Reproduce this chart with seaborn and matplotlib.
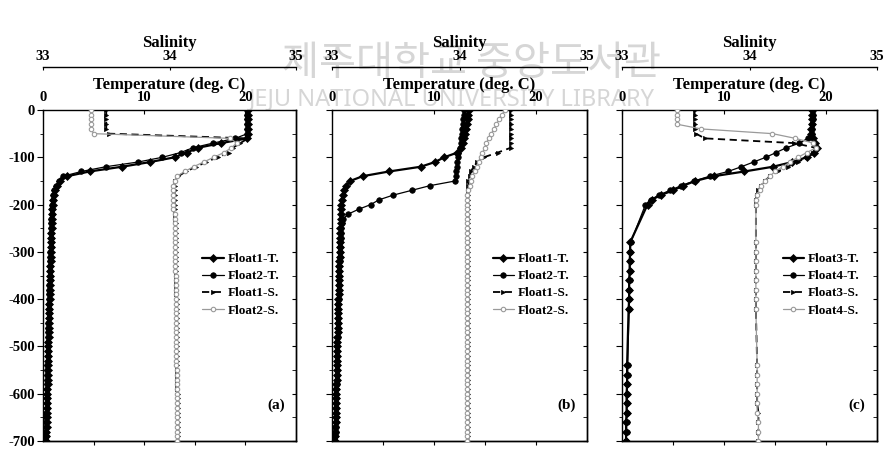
import matplotlib
matplotlib.use("Agg")
import matplotlib.pyplot as plt
import seaborn as sns

# ---------------- data ----------------
# depth levels (m) used by panels (a) and (b)
depth = [0, -10, -20, -30, -40, -50, -60, -70, -80, -90,
         -100, -110, -120, -130, -140, -150, -160, -170, -180, -190,
         -200, -210, -220, -230, -240, -250, -260, -270, -280, -290,
         -300, -310, -320, -330, -340, -350, -360, -370, -380, -390,
         -400, -410, -420, -430, -440, -450, -460, -470, -480, -490,
         -500, -510, -520, -530, -540, -550, -560, -570, -580, -590,
         -600, -610, -620, -630, -640, -650, -660, -670, -680, -690,
         -700]

# panel (a)
a_float1_t = [20.3, 20.3, 20.3, 20.3, 20.3, 20.3, 20.2, 17.6, 15.3, 14.2,
              13.0, 10.6, 7.8, 4.6, 2.4, 1.7, 1.4, 1.2, 1.1, 1.0,
              0.95, 0.9, 0.9, 0.85, 0.85, 0.85, 0.8, 0.8, 0.8, 0.8,
              0.75, 0.75, 0.75, 0.7, 0.7, 0.7, 0.7, 0.65, 0.65, 0.65,
              0.65, 0.6, 0.6, 0.6, 0.6, 0.55, 0.55, 0.55, 0.55, 0.5,
              0.5, 0.5, 0.5, 0.5, 0.45, 0.45, 0.45, 0.45, 0.45, 0.4,
              0.4, 0.4, 0.4, 0.4, 0.35, 0.35, 0.35, 0.35, 0.3, 0.3,
              0.3]
a_float2_t = [20.2, 20.2, 20.2, 20.2, 20.2, 20.2, 19.0, 16.8, 14.8, 13.6,
              11.8, 9.4, 6.2, 3.8, 2.0, 1.6, 1.3, 1.1, 1.0, 0.95,
              0.9, 0.85, 0.85, 0.8, 0.8, 0.8, 0.75, 0.75, 0.75, 0.75,
              0.7, 0.7, 0.7, 0.65, 0.65, 0.65, 0.65, 0.6, 0.6, 0.6,
              0.6, 0.55, 0.55, 0.55, 0.55, 0.5, 0.5, 0.5, 0.5, 0.45,
              0.45, 0.45, 0.45, 0.45, 0.4, 0.4, 0.4, 0.4, 0.4, 0.35,
              0.35, 0.35, 0.35, 0.35, 0.3, 0.3, 0.3, 0.3, 0.25, 0.25,
              0.25]
a_float1_s = [33.50, 33.50, 33.50, 33.50, 33.50, 33.52, 34.62, 34.56, 34.50, 34.47,
              34.38, 34.29, 34.21, 34.13, 34.07, 34.04, 34.04, 34.04, 34.04, 34.04,
              34.04, 34.04, 34.04, 34.04, 34.05, 34.05, 34.05, 34.05, 34.05, 34.05,
              34.05, 34.05, 34.05, 34.05, 34.05, 34.05, 34.05, 34.05, 34.05, 34.05,
              34.06, 34.06, 34.06, 34.06, 34.06, 34.06, 34.06, 34.06, 34.06, 34.06,
              34.06, 34.06, 34.06, 34.06, 34.06, 34.06, 34.06, 34.06, 34.06, 34.06,
              34.07, 34.07, 34.07, 34.07, 34.07, 34.07, 34.07, 34.07, 34.07, 34.07,
              34.07]
a_float2_s = [33.38, 33.38, 33.38, 33.38, 33.38, 33.40, 34.48, 34.53, 34.49, 34.43,
              34.35, 34.27, 34.19, 34.12, 34.06, 34.04, 34.03, 34.03, 34.03, 34.03,
              34.03, 34.03, 34.04, 34.04, 34.04, 34.04, 34.04, 34.04, 34.04, 34.04,
              34.04, 34.04, 34.04, 34.04, 34.04, 34.05, 34.05, 34.05, 34.05, 34.05,
              34.05, 34.05, 34.05, 34.05, 34.05, 34.05, 34.05, 34.05, 34.05, 34.05,
              34.05, 34.05, 34.05, 34.05, 34.05, 34.06, 34.06, 34.06, 34.06, 34.06,
              34.06, 34.06, 34.06, 34.06, 34.06, 34.06, 34.06, 34.06, 34.06, 34.06,
              34.06]

# panel (b)
b_float1_t = [13.4, 13.3, 13.3, 13.2, 13.1, 13.0, 12.9, 12.8, 12.6, 12.3,
              11.0, 10.1, 8.7, 5.6, 3.0, 1.8, 1.4, 1.2, 1.05, 0.95,
              0.9, 0.9, 0.85, 0.85, 0.85, 0.8, 0.8, 0.8, 0.8, 0.75,
              0.75, 0.75, 0.7, 0.7, 0.7, 0.7, 0.65, 0.65, 0.65, 0.65,
              0.6, 0.6, 0.6, 0.6, 0.55, 0.55, 0.55, 0.55, 0.5, 0.5,
              0.5, 0.5, 0.5, 0.45, 0.45, 0.45, 0.45, 0.45, 0.4, 0.4,
              0.4, 0.4, 0.4, 0.35, 0.35, 0.35, 0.35, 0.3, 0.3, 0.3,
              0.3]
b_float2_t = [12.9, 12.9, 12.8, 12.8, 12.7, 12.7, 12.6, 12.6, 12.5, 12.4,
              12.4, 12.3, 12.3, 12.2, 12.2, 12.1, 9.6, 7.8, 6.0, 4.6,
              3.8, 2.6, 1.6, 1.1, 0.95, 0.9, 0.85, 0.85, 0.8, 0.8,
              0.75, 0.75, 0.75, 0.7, 0.7, 0.7, 0.7, 0.65, 0.65, 0.65,
              0.65, 0.6, 0.6, 0.6, 0.6, 0.55, 0.55, 0.55, 0.55, 0.5,
              0.5, 0.5, 0.5, 0.5, 0.45, 0.45, 0.45, 0.45, 0.45, 0.4,
              0.4, 0.4, 0.4, 0.4, 0.35, 0.35, 0.35, 0.35, 0.35, 0.3,
              0.3]
b_float1_s = [34.40, 34.40, 34.40, 34.40, 34.40, 34.40, 34.40, 34.40, 34.40, 34.30,
              34.19, 34.14, 34.11, 34.09, 34.08, 34.07, 34.07, 34.07, 34.07, 34.07,
              34.07, 34.07, 34.07, 34.07, 34.07, 34.07, 34.07, 34.07, 34.07, 34.07,
              34.07, 34.07, 34.07, 34.07, 34.07, 34.07, 34.07, 34.07, 34.07, 34.07,
              34.07, 34.07, 34.07, 34.07, 34.07, 34.07, 34.07, 34.07, 34.07, 34.07,
              34.07, 34.07, 34.07, 34.07, 34.07, 34.07, 34.07, 34.07, 34.07, 34.07,
              34.07, 34.07, 34.07, 34.07, 34.07, 34.07, 34.07, 34.07, 34.07, 34.07,
              34.07]
b_float2_s = [34.36, 34.33, 34.31, 34.29, 34.27, 34.25, 34.23, 34.21, 34.20, 34.18,
              34.17, 34.15, 34.14, 34.12, 34.10, 34.09, 34.08, 34.07, 34.06, 34.06,
              34.06, 34.06, 34.06, 34.06, 34.06, 34.06, 34.06, 34.06, 34.06, 34.06,
              34.06, 34.06, 34.06, 34.06, 34.06, 34.06, 34.06, 34.06, 34.06, 34.06,
              34.06, 34.06, 34.06, 34.06, 34.06, 34.06, 34.06, 34.06, 34.06, 34.06,
              34.06, 34.06, 34.06, 34.06, 34.06, 34.06, 34.06, 34.06, 34.06, 34.06,
              34.06, 34.06, 34.06, 34.06, 34.06, 34.06, 34.06, 34.06, 34.06, 34.06,
              34.06]

# panel (c): sparser sampling at depth
depth_c = [0, -10, -20, -30, -40, -50, -60, -70, -80, -90,
           -100, -110, -120, -130, -140, -150, -160, -170, -180, -190,
           -200, -280, -300, -320, -340, -360, -380, -400, -420, -540,
           -560, -580, -600, -620, -640, -660, -680, -700]
c_float3_t = [18.6, 18.6, 18.6, 18.6, 18.5, 18.5, 18.7, 18.9, 19.1, 18.8,
              18.1, 16.7, 14.8, 12.0, 9.0, 7.2, 6.0, 5.0, 3.8, 2.9,
              2.5, 0.8, 0.8, 0.75, 0.75, 0.7, 0.7, 0.7, 0.65, 0.5,
              0.5, 0.5, 0.45, 0.45, 0.45, 0.4, 0.4, 0.4]
c_float4_t = [18.7, 18.7, 18.7, 18.6, 18.6, 18.6, 18.2, 17.4, 16.1, 15.1,
              14.1, 12.9, 11.7, 10.4, 8.6, 7.1, 5.8, 4.7, 3.6, 2.8,
              2.3, 0.85, 0.8, 0.8, 0.75, 0.75, 0.7, 0.7, 0.7, 0.55,
              0.55, 0.5, 0.5, 0.5, 0.45, 0.45, 0.45, 0.4]
c_float3_s = [33.57, 33.57, 33.57, 33.57, 33.57, 33.58, 33.65, 34.35, 34.52, 34.50,
              34.45, 34.38, 34.30, 34.22, 34.16, 34.12, 34.09, 34.07, 34.06, 34.05,
              34.05, 34.05, 34.05, 34.05, 34.05, 34.05, 34.05, 34.05, 34.05, 34.06,
              34.06, 34.06, 34.06, 34.06, 34.07, 34.07, 34.07, 34.07]
c_float4_s = [33.43, 33.43, 33.43, 33.43, 33.62, 34.18, 34.36, 34.50, 34.52, 34.45,
              34.38, 34.32, 34.26, 34.20, 34.16, 34.12, 34.09, 34.08, 34.06, 34.05,
              34.05, 34.05, 34.05, 34.05, 34.05, 34.05, 34.05, 34.05, 34.05, 34.06,
              34.06, 34.06, 34.06, 34.06, 34.06, 34.07, 34.07, 34.07]

legend_a = ["Float1-T.", "Float2-T.", "Float1-S.", "Float2-S."]
legend_c = ["Float3-T.", "Float4-T.", "Float3-S.", "Float4-S."]
panel_tags = ["(a)", "(b)", "(c)"]

temp_ticks = [0, 10, 20]
temp_ticklabels = ["0", "10", "20"]
sal_ticks = [33, 34, 35]
sal_ticklabels = ["33", "34", "35"]
depth_ticks = [0, -100, -200, -300, -400, -500, -600, -700]
depth_ticklabels = ["0", "-100", "-200", "-300", "-400", "-500", "-600", "-700"]
depth_minor = [-50, -150, -250, -350, -450, -550, -650]

# ---------------- style ----------------
sns.set_style("ticks", {"axes.edgecolor": "black", "text.color": "black",
                        "xtick.color": "black", "ytick.color": "black",
                        "axes.labelcolor": "black"})
plt.rcParams["font.family"] = ["Liberation Serif", "DejaVu Serif"]
plt.rcParams["font.weight"] = "bold"
plt.rcParams["axes.labelweight"] = "bold"
plt.rcParams["axes.linewidth"] = 1.0

t_styles = [
    dict(color="black", linewidth=1.6, marker="D", markersize=3.6,
         markeredgecolor="black", markerfacecolor="black", markeredgewidth=0.5),
    dict(color="black", linewidth=0.9, marker="o", markersize=4.0,
         markeredgecolor="black", markerfacecolor="black", markeredgewidth=0.5),
]
s_styles = [
    dict(color="black", linewidth=1.3, linestyle=(0, (4, 2.5)), marker=">",
         markersize=3.0, markeredgecolor="black", markerfacecolor="black",
         markeredgewidth=0.5),
    dict(color="#9a9a9a", linewidth=0.9, marker="o", markersize=3.2,
         markeredgecolor="#9a9a9a", markerfacecolor="white", markeredgewidth=0.8),
]

W, H = 886, 450
fig = plt.figure(figsize=(W / 100, H / 100), dpi=100)

panels = [
    ((43, 296), depth, [a_float1_t, a_float2_t], [a_float1_s, a_float2_s], legend_a, True),
    ((332, 587), depth, [b_float1_t, b_float2_t], [b_float1_s, b_float2_s], legend_a, False),
    ((622, 877), depth_c, [c_float3_t, c_float4_t], [c_float3_s, c_float4_s], legend_c, False),
]
top_px, bot_px = 110, 441

for i, ((lpx, rpx), dep, temps, sals, names, show_y) in enumerate(panels):
    ax = fig.add_axes([lpx / W, (H - bot_px) / H, (rpx - lpx) / W, (bot_px - top_px) / H])
    axs = ax.twiny()

    for vals, st, nm in zip(temps, t_styles, names[:2]):
        sns.lineplot(x=vals, y=dep, ax=ax, sort=False, estimator=None,
                     label=nm, **st)
    for vals, st, nm in zip(sals, s_styles, names[2:]):
        sns.lineplot(x=vals, y=dep, ax=axs, sort=False, estimator=None,
                     label=nm, **st)

    for a in (ax, axs):
        if a.get_legend() is not None:
            a.get_legend().remove()

    # temperature axis (top, inner)
    ax.set_xlim(0, 25)
    ax.set_ylim(-700, 0)
    ax.xaxis.tick_top()
    ax.xaxis.set_label_position("top")
    ax.set_xticks(temp_ticks, temp_ticklabels)
    ax.set_xlabel("Temperature (deg. C)", fontsize=12, labelpad=2)
    ax.set_ylabel("")
    ax.tick_params(axis="x", which="both", top=True, bottom=False, labeltop=True,
                   labelbottom=False, direction="in", length=3, pad=4, labelsize=10.5)
    ax.set_yticks(depth_ticks, depth_ticklabels)
    ax.set_yticks(depth_minor, minor=True)
    ax.tick_params(axis="y", which="major", left=True, right=False, direction="out",
                   length=4, pad=2, labelsize=10.5, labelleft=show_y)
    ax.tick_params(axis="y", which="minor", left=True, right=False, direction="out",
                   length=2.5)

    ry = ax.secondary_yaxis("right")
    ry.set_yticks(depth_ticks)
    ry.set_yticks(depth_minor, minor=True)
    ry.tick_params(axis="y", which="both", direction="in", length=3,
                   labelright=False, labelleft=False)

    bx = ax.secondary_xaxis("bottom")
    bx.set_xticks([5, 10, 15, 20])
    bx.tick_params(axis="x", direction="out", length=3, labelbottom=False)

    # salinity axis (top, outer)
    axs.set_xlim(33, 35)
    axs.set_xticks(sal_ticks, sal_ticklabels)
    axs.spines["top"].set_position(("outward", 31))
    for s in ("left", "right", "bottom"):
        axs.spines[s].set_visible(False)
    axs.tick_params(axis="x", direction="in", length=2, pad=3, labelsize=10.5)
    axs.set_xlabel("Salinity", fontsize=12, labelpad=2)

    h1, l1 = ax.get_legend_handles_labels()
    h2, l2 = axs.get_legend_handles_labels()
    axs.legend(h1 + h2, l1 + l2, loc="upper left", bbox_to_anchor=(0.63, 0.568),
               frameon=False, fontsize=9.5, handlelength=1.6, handletextpad=0.3,
               labelspacing=0.37, borderpad=0, borderaxespad=0)

    axs.text(0.92, 0.109, panel_tags[i], transform=axs.transAxes, ha="center",
             va="center", fontsize=11, fontweight="bold")

# faint library watermark present on the scanned figure
fig.text(472 / W, 1 - 63 / H, "제주대학교 중앙도서관", family=["Noto Sans CJK KR"],
         color="#d6d6d6", fontsize=29, fontweight="normal", ha="center", va="center",
         zorder=-1)
fig.text(452 / W, 1 - 99 / H, "JEJU NATIONAL UNIVERSITY LIBRARY", family=["Noto Sans"],
         color="#d6d6d6", fontsize=17, fontweight="normal", ha="center", va="center",
         zorder=-1)

fig.savefig("out.png", dpi=100)
